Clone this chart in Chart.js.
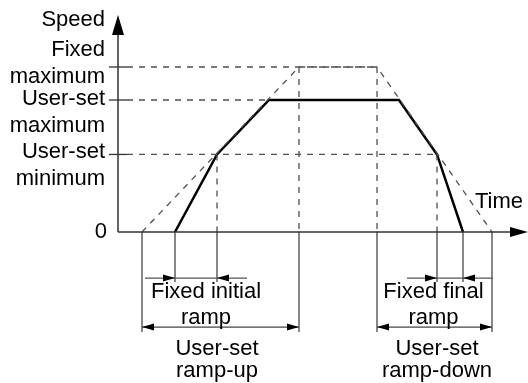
<!DOCTYPE html>
<html>
<head>
<meta charset="utf-8">
<script src="https://cdn.jsdelivr.net/npm/chart.js@4/dist/chart.umd.min.js"></script>
<style>
html,body{margin:0;padding:0;background:#fff;}
canvas{display:block;}
</style>
</head>
<body>
<canvas id="c" width="528" height="383"></canvas>
<script>
// ---- data ----
const speedTickLabels = [["Fixed", "maximum"], ["User-set", "maximum"], ["User-set", "minimum"]];
const speedTickValues = [100, 80, 47];

const actualTime  = [5.7, 9.9, 15.1, 28.1, 31.9, 34.5];
const actualSpeed = [0, 47, 80, 80, 47, 0];

const fixedTime  = [2.4, 18.1, 25.9, 37.4];
const fixedSpeed = [0, 100, 100, 0];

// horizontal guide ends (time) for each speed tick
const guideEndTime = [25.9, 15.1, 31.9];
// vertical dashed guides above the axis
const vGuideTime  = [9.9, 18.1, 25.9, 31.9];
const vGuideSpeed = [47, 100, 100, 47];

// extension lines below the axis: time and depth (speed units)
const extTime  = [2.4, 5.7, 9.9, 18.1, 25.9, 31.9, 34.5, 37.4];
const extDepth = [-60.6, -30.3, -30.3, -60.6, -60.6, -30.3, -30.3, -60.6];

// dimension annotations
const rampLabels = [["Fixed initial", "ramp"], ["User-set", "ramp-up"], ["Fixed final", "ramp"], ["User-set", "ramp-down"]];
const rampFrom   = [5.7, 2.4, 31.9, 25.9];
const rampTo     = [9.9, 18.1, 34.5, 37.4];
const rampLevel  = [-27.9, -57.6, -27.9, -57.6];
const rampInward = [true, false, true, false];
const rampTextTime = [8.8, 9.9, 31.55, 31.9];

const axisLabels = {y: "Speed", x: "Time", zero: "0"};

// ---- datasets ----
const DASH = [6, 6];
const DASHCOL = '#505050';
const datasets = [];
speedTickValues.forEach((v, i) => {
  datasets.push({data: [{x: 0.9, y: v}, {x: guideEndTime[i], y: v}], borderColor: DASHCOL, borderWidth: 1.3, borderDash: DASH});
  datasets.push({data: [{x: -0.9, y: v}, {x: 0.9, y: v}], borderColor: '#333', borderWidth: 1.3});
});
vGuideTime.forEach((t, i) => {
  datasets.push({data: [{x: t, y: vGuideSpeed[i]}, {x: t, y: 0}], borderColor: DASHCOL, borderWidth: 1.3, borderDash: DASH});
});
extTime.forEach((t, i) => {
  datasets.push({data: [{x: t, y: 0}, {x: t, y: extDepth[i]}], borderColor: '#555', borderWidth: 1.4});
});
rampFrom.forEach((a, i) => {
  const b = rampTo[i], lv = rampLevel[i];
  if (rampInward[i]) {
    const ext = 3.0;
    datasets.push({data: [{x: a - ext, y: lv}, {x: b + ext, y: lv}], borderColor: '#555', borderWidth: 1.3});
  } else {
    datasets.push({data: [{x: a, y: lv}, {x: b, y: lv}], borderColor: '#444', borderWidth: 1.3});
  }
});
datasets.push({data: fixedTime.map((t, i) => ({x: t, y: fixedSpeed[i]})), borderColor: DASHCOL, borderWidth: 1.3, borderDash: DASH});
datasets.push({data: actualTime.map((t, i) => ({x: t, y: actualSpeed[i]})), borderColor: '#000', borderWidth: 2.5});
datasets.forEach(d => { d.showLine = true; d.pointRadius = 0; d.fill = false; });

const FONT = '22px "Liberation Sans", Arial, sans-serif';

function tri(ctx, tipX, tipY, dx, dy, len, half) {
  const bx = tipX - dx * len, by = tipY - dy * len;
  ctx.beginPath();
  ctx.moveTo(tipX, tipY);
  ctx.lineTo(bx - dy * half, by + dx * half);
  ctx.lineTo(bx + dy * half, by - dx * half);
  ctx.closePath();
  ctx.fill();
}

const annot = {
  id: 'annot',
  afterDatasetsDraw(chart) {
    const ctx = chart.ctx, xs = chart.scales.x, ys = chart.scales.y;
    const X = v => xs.getPixelForValue(v), Y = v => ys.getPixelForValue(v);
    ctx.save();
    ctx.strokeStyle = '#333'; ctx.fillStyle = '#000'; ctx.lineWidth = 1.5;
    ctx.beginPath();
    ctx.moveTo(X(0), Y(0)); ctx.lineTo(X(0), Y(120));
    ctx.moveTo(X(0), Y(0)); ctx.lineTo(X(40), Y(0));
    ctx.stroke();
    tri(ctx, X(0), 15, 0, -1, 20, 6);
    tri(ctx, 528, Y(0), 1, 0, 18, 5);
    rampFrom.forEach((a, i) => {
      const b = rampTo[i], lv = Y(rampLevel[i]);
      if (rampInward[i]) {
        tri(ctx, X(a), lv, 1, 0, 12, 3.5);
        tri(ctx, X(b), lv, -1, 0, 12, 3.5);
      } else {
        tri(ctx, X(a), lv, -1, 0, 12, 3.5);
        tri(ctx, X(b), lv, 1, 0, 12, 3.5);
      }
    });
    ctx.font = FONT; ctx.fillStyle = '#000';
    ctx.textBaseline = 'alphabetic';
    ctx.textAlign = 'right';
    const lx = X(0) - 13;
    ctx.fillText(axisLabels.y, lx, 26);
    const firstOffsets = [-11, 5, 4];
    speedTickValues.forEach((v, i) => {
      const base = Y(v) + firstOffsets[i];
      ctx.fillText(speedTickLabels[i][0], lx, base);
      ctx.fillText(speedTickLabels[i][1], lx, base + 27);
    });
    ctx.fillText(axisLabels.zero, lx + 2, Y(0) + 6);
    ctx.textAlign = 'left';
    ctx.fillText(axisLabels.x, 475, 208);
    ctx.textAlign = 'center';
    rampLabels.forEach((lab, i) => {
      const cx = X(rampTextTime[i]);
      const b1 = rampInward[i] ? 298 : 355;
      const b2 = rampInward[i] ? 324 : 377;
      ctx.fillText(lab[0], cx, b1);
      ctx.fillText(lab[1], cx, b2);
    });
    ctx.restore();
  }
};

new Chart(document.getElementById('c'), {
  type: 'scatter',
  data: {datasets},
  options: {
    responsive: false,
    devicePixelRatio: 1,
    animation: false,
    layout: {padding: 0},
    plugins: {legend: {display: false}, tooltip: {enabled: false}},
    scales: {
      x: {type: 'linear', display: false, min: -11.8, max: 41.0},
      y: {type: 'linear', display: false, min: -91.5, max: 140.6}
    }
  },
  plugins: [annot]
});
</script>
</body>
</html>
